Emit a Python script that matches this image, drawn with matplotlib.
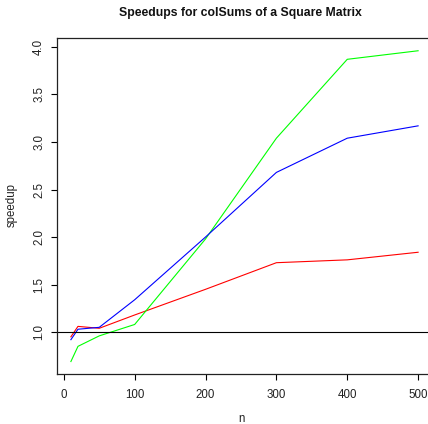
import matplotlib
matplotlib.use("Agg")
import matplotlib.pyplot as plt

n = [10, 20, 50, 100, 200, 300, 400, 500]
red = [0.95, 1.06, 1.04, 1.18, 1.45, 1.73, 1.76, 1.84]
green = [0.69, 0.85, 0.96, 1.08, 1.98, 3.04, 3.87, 3.96]
blue = [0.92, 1.03, 1.05, 1.34, 2.00, 2.68, 3.04, 3.17]
xticks = [0, 100, 200, 300, 400, 500]
yticks = [1.0, 1.5, 2.0, 2.5, 3.0, 3.5, 4.0]

plt.rcParams['font.family'] = ['Liberation Sans', 'DejaVu Sans']
fig = plt.figure(figsize=(4.28, 4.24), dpi=100)
ax = fig.add_axes([57/428, 1 - 374/424, (432 - 57)/428, (374 - 38.4)/424])

ax.plot(n, red, color='#ff0000', lw=0.8)
ax.plot(n, green, color='#00ff00', lw=0.8)
ax.plot(n, blue, color='#0000ff', lw=0.8)
ax.axhline(1.0, color='black', lw=0.8)

ax.set_xlim(-9.6, 519.6)
ax.set_ylim(0.559, 4.09)
ax.set_xticks(xticks)
ax.set_xticklabels([str(t) for t in xticks])
ax.set_yticks(yticks)
ax.set_yticklabels([f"{t:.1f}" for t in yticks], rotation=90, va='center')
ax.tick_params(axis='both', labelsize=8.3, length=4.5, width=0.8, direction='out',
               colors='black', labelcolor='#222222')
ax.tick_params(axis='x', pad=6)
ax.tick_params(axis='y', pad=4)
for s in ax.spines.values():
    s.set_linewidth(0.9)
    s.set_color('#222222')

fig.text(240/428, 1 - 13/424, "Speedups for colSums of a Square Matrix",
         ha='center', va='center', fontsize=8.8, fontweight='bold', color='#111111')
fig.text(241/428, 1 - 419/424, "n", ha='center', va='center', fontsize=8.3, color='#222222')
fig.text(12/428, 1 - 205/424, "speedup", ha='center', va='center', fontsize=8.3,
         rotation=90, color='#222222')

fig.savefig("out.png", dpi=100)
